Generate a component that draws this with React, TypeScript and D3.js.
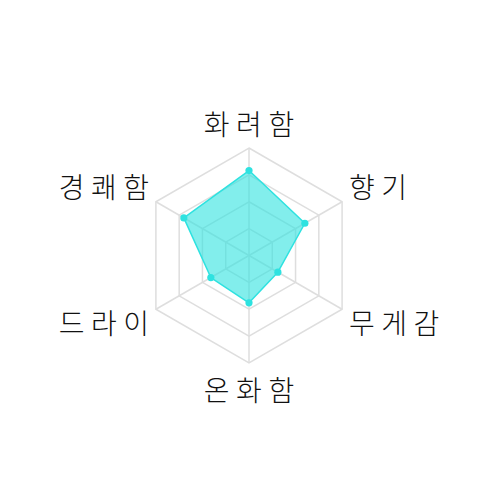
import React from "react";
import * as d3 from "d3";

const axes = ["화려함", "향기", "무게감", "온화함", "드라이", "경쾌함"];
const values = [79, 60, 31, 44, 41, 70];
const levels = [25, 50, 75, 100];

const W = 500;
const H = 500;
const cx = 249;
const cy = 255.5;
const R = 107.5;
const color = "#2ee2e0";
const fontSize = 28;
const ls = 6.5;

export default function App() {
  const r = d3.scaleLinear().domain([0, 100]).range([0, R]);
  const angle = d3
    .scaleLinear()
    .domain([0, axes.length])
    .range([-Math.PI / 2, (3 * Math.PI) / 2]);
  const pt = (i: number, v: number): [number, number] => [
    cx + r(v) * Math.cos(angle(i)),
    cy + r(v) * Math.sin(angle(i)),
  ];
  const closed = d3.line().curve(d3.curveLinearClosed);

  const labelPos = (i: number) => {
    const a = angle(i);
    const c = Math.cos(a);
    const s = Math.sin(a);
    const gx = 101;
    let x = cx;
    let anchor: "start" | "middle" | "end" = "middle";
    if (c > 0.01) {
      x = cx + gx - 1;
      anchor = "start";
    } else if (c < -0.01) {
      x = cx - gx + ls + 1;
      anchor = "end";
    } else {
      x = cx + ls / 2;
    }
    let y: number;
    if (Math.abs(c) < 0.01) {
      y = s < 0 ? cy - 132.5 : cy + 133.5;
    } else {
      y = s < 0 ? cy - 70 : cy + 66;
    }
    return { x, y, anchor };
  };

  return (
    <svg
      width={W}
      height={H}
      style={{ position: "absolute", left: 0, top: 0, background: "#fff" }}
    >
      <g fill="none" stroke="#dedede" strokeWidth={1.5}>
        {levels.map((lv) => (
          <path key={lv} d={closed(axes.map((_, i) => pt(i, lv))) || ""} />
        ))}
        {axes.map((_, i) => {
          const [x, y] = pt(i, 100);
          return <line key={i} x1={cx} y1={cy} x2={x} y2={y} />;
        })}
      </g>
      <path
        d={closed(values.map((v, i) => pt(i, v))) || ""}
        fill={color}
        fillOpacity={0.6}
        stroke={color}
        strokeWidth={1.5}
        strokeLinejoin="round"
      />
      {values.map((v, i) => {
        const [x, y] = pt(i, v);
        return <circle key={i} cx={x} cy={y} r={3.6} fill={color} />;
      })}
      {axes.map((name, i) => {
        const p = labelPos(i);
        return (
          <text
            key={name}
            x={p.x}
            y={p.y}
            textAnchor={p.anchor}
            dominantBaseline="central"
            fontFamily="'Noto Sans CJK KR', sans-serif"
            fontWeight={300}
            fontSize={fontSize}
            letterSpacing={ls}
            fill="#111"
          >
            {name}
          </text>
        );
      })}
    </svg>
  );
}
